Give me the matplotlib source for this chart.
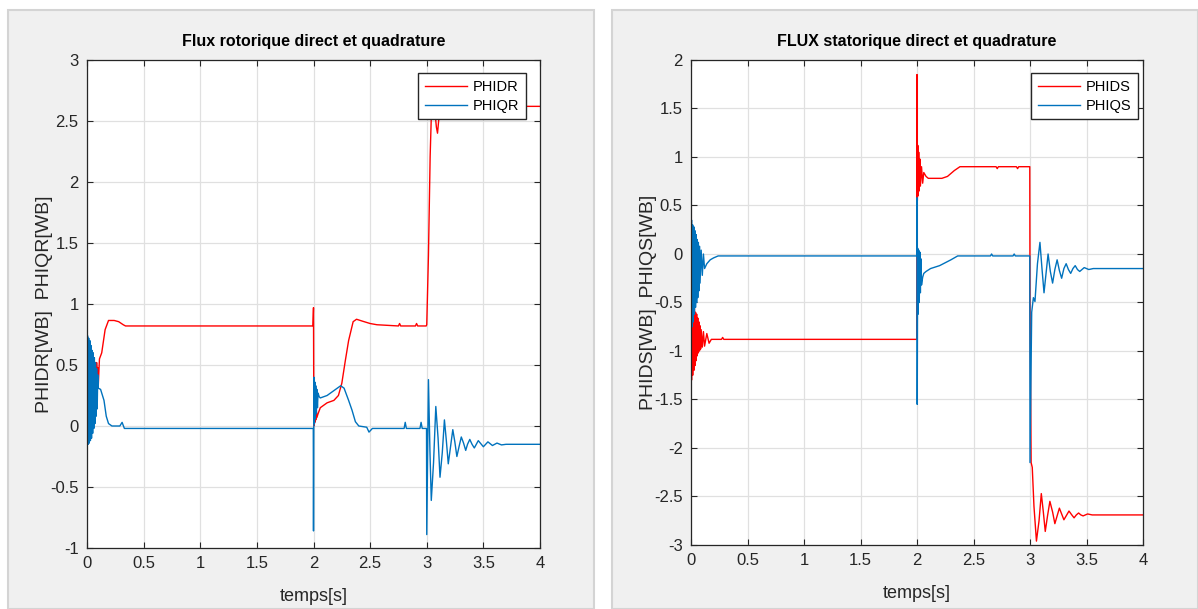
import numpy as np
import matplotlib
matplotlib.use("Agg")
import matplotlib.pyplot as plt
from matplotlib.patches import Rectangle

plt.rcParams['font.family'] = ['Liberation Sans Narrow', 'Liberation Sans', 'DejaVu Sans']

# ---- donnees : flux rotorique ----
t_phidr = [0.0, 0.005, 0.01, 0.015, 0.02, 0.025, 0.03, 0.035, 0.04, 0.045, 0.05, 0.055, 0.06,
           0.065, 0.07, 0.075, 0.08, 0.085, 0.09, 0.095, 0.10, 0.11, 0.13, 0.16, 0.19, 0.24,
           0.28, 0.32, 0.34,
           1.995, 2.0, 2.003, 2.008, 2.012, 2.016, 2.02, 2.025, 2.03, 2.04, 2.06, 2.12, 2.18,
           2.22, 2.25, 2.28, 2.31, 2.35, 2.38, 2.43, 2.5, 2.56, 2.75, 2.76, 2.77, 2.9, 2.91,
           2.92, 2.995,
           3.0, 3.015, 3.03, 3.05, 3.07, 3.085, 3.095, 3.11, 3.13, 4.0]
phidr = [0.0, 0.55, 0.02, 0.52, 0.05, 0.55, 0.08, 0.5, 0.12, 0.55, 0.15, 0.5, 0.2,
         0.53, 0.25, 0.5, 0.3, 0.52, 0.35, 0.48, 0.34, 0.55, 0.6, 0.79, 0.865, 0.865,
         0.855, 0.83, 0.82,
         0.82, 0.97, 0.0, 0.15, 0.03, 0.14, 0.05, 0.13, 0.07, 0.1, 0.15, 0.19, 0.21,
         0.25, 0.35, 0.53, 0.7, 0.855, 0.875, 0.86, 0.84, 0.83, 0.82, 0.84, 0.82, 0.82, 0.84,
         0.82, 0.82,
         0.83, 1.4, 2.21, 2.85, 2.6, 2.45, 2.4, 2.55, 2.62, 2.62]

t_phiqr = [0.0, 0.005, 0.01, 0.015, 0.02, 0.025, 0.03, 0.035, 0.04, 0.045, 0.05, 0.055, 0.06,
           0.065, 0.07, 0.075, 0.08, 0.085, 0.09, 0.095, 0.10, 0.12, 0.15, 0.17, 0.19, 0.22,
           0.29, 0.31, 0.33, 0.38,
           1.998, 2.0, 2.004, 2.008, 2.012, 2.016, 2.02, 2.025, 2.03, 2.035, 2.04, 2.05, 2.06,
           2.12, 2.18, 2.24, 2.27, 2.31, 2.34, 2.37, 2.4, 2.47, 2.49, 2.52, 2.8, 2.81, 2.82,
           2.94, 2.95, 2.96, 2.998,
           3.0, 3.015, 3.028, 3.04, 3.06, 3.08, 3.1, 3.117, 3.137, 3.156, 3.173, 3.19, 3.21,
           3.23, 3.248, 3.266, 3.285, 3.305, 3.325, 3.344, 3.36, 3.38, 3.4, 3.42,
           3.455, 3.5, 3.54, 3.58, 3.62, 3.66, 3.7, 4.0]
phiqr = [0.0, 0.74, -0.15, 0.72, -0.14, 0.7, -0.12, 0.66, -0.1, 0.62, -0.06, 0.6, -0.02,
         0.56, 0.02, 0.52, 0.08, 0.47, 0.14, 0.42, 0.31, 0.3, 0.21, 0.08, 0.02, 0.0,
         0.0, 0.03, -0.02, -0.02,
         -0.02, -0.86, 0.4, 0.02, 0.36, 0.06, 0.33, 0.1, 0.3, 0.15, 0.27, 0.24, 0.23,
         0.25, 0.29, 0.33, 0.31, 0.21, 0.13, 0.035, 0.0, -0.01, -0.05, -0.02, -0.02, 0.03, -0.02,
         -0.02, 0.03, -0.02, -0.02,
         -0.89, 0.38, -0.2, -0.61, -0.3, 0.16, -0.1, -0.42, -0.22, 0.05, -0.12, -0.31, -0.17,
         -0.03, -0.13, -0.25, -0.17, -0.09, -0.14, -0.2, -0.15, -0.11, -0.15, -0.18,
         -0.12, -0.17, -0.13, -0.16, -0.14, -0.155, -0.15, -0.15]

# ---- donnees : flux statorique ----
t_phids = [0.0, 0.005, 0.01, 0.015, 0.02, 0.025, 0.03, 0.035, 0.04, 0.045, 0.05, 0.055, 0.06,
           0.065, 0.07, 0.075, 0.08, 0.085, 0.09, 0.1, 0.11, 0.12, 0.14, 0.16, 0.18, 0.27,
           0.28, 0.29,
           1.998, 2.0, 2.003, 2.007, 2.011, 2.015, 2.02, 2.025, 2.03, 2.04, 2.05, 2.06, 2.08,
           2.1, 2.22, 2.27, 2.33, 2.38, 2.44, 2.7, 2.71, 2.72, 2.88, 2.89, 2.9, 2.998,
           3.0, 3.01, 3.02, 3.035, 3.057, 3.08, 3.1, 3.118, 3.135, 3.155, 3.176, 3.2, 3.22,
           3.24, 3.26, 3.28, 3.3, 3.32, 3.345, 3.37, 3.39, 3.41,
           3.43, 3.45, 3.47, 3.51, 3.55, 4.0]
phids = [-0.75, -1.3, -0.45, -1.25, -0.5, -1.2, -0.55, -1.15, -0.6, -1.1, -0.62, -1.05, -0.66,
         -1.02, -0.7, -1.0, -0.74, -0.98, -0.78, -0.96, -0.8, -0.95, -0.82, -0.92, -0.88, -0.88,
         -0.86, -0.88,
         -0.88, 1.85, 0.55, 1.12, 0.6, 1.05, 0.65, 0.98, 0.7, 0.9, 0.73, 0.84, 0.8,
         0.78, 0.78, 0.8, 0.86, 0.9, 0.9, 0.9, 0.88, 0.9, 0.9, 0.88, 0.9, 0.9,
         -0.5, -2.15, -2.2, -2.6, -2.96, -2.75, -2.47, -2.66, -2.86, -2.7, -2.55, -2.66, -2.78,
         -2.7, -2.62, -2.68, -2.74, -2.7, -2.65, -2.69, -2.72, -2.69,
         -2.67, -2.69, -2.7, -2.68, -2.69, -2.69]

t_phiqs = [0.0, 0.005, 0.01, 0.015, 0.02, 0.025, 0.03, 0.035, 0.04, 0.045, 0.05, 0.055, 0.06,
           0.065, 0.07, 0.075, 0.08, 0.09, 0.1, 0.11, 0.12, 0.14, 0.17, 0.2, 0.24, 0.3,
           1.998, 2.0, 2.002, 2.006, 2.01, 2.015, 2.02, 2.025, 2.03, 2.035, 2.04, 2.05, 2.06,
           2.08, 2.12, 2.2, 2.3, 2.36, 2.4, 2.65, 2.66, 2.67, 2.85, 2.86, 2.87, 2.998,
           3.0, 3.015, 3.03, 3.044, 3.066, 3.088, 3.106, 3.124, 3.142, 3.16, 3.18, 3.2, 3.22,
           3.24, 3.26, 3.28, 3.3, 3.32, 3.34, 3.36, 3.38, 3.4, 3.42, 3.44,
           3.48, 3.52, 3.56, 3.6, 4.0]
phiqs = [0.0, 0.35, -0.75, 0.3, -0.7, 0.28, -0.62, 0.24, -0.55, 0.2, -0.5, 0.15, -0.45,
         0.12, -0.38, 0.08, -0.3, 0.04, -0.22, 0.0, -0.15, -0.1, -0.06, -0.04, -0.02, -0.02,
         -0.02, 0.58, -1.55, 0.06, -0.62, 0.04, -0.5, 0.02, -0.4, -0.05, -0.32, -0.24, -0.2,
         -0.18, -0.15, -0.12, -0.06, -0.02, -0.02, -0.02, 0.0, -0.02, -0.02, 0.0, -0.02, -0.02,
         -2.15, -0.6, -0.45, -0.49, -0.1, 0.12, -0.15, -0.4, -0.2, 0.0, -0.18, -0.3, -0.16,
         -0.06, -0.17, -0.25, -0.15, -0.1, -0.16, -0.2, -0.15, -0.12, -0.16, -0.18,
         -0.14, -0.16, -0.15, -0.15, -0.15]

xticks = [0, 0.5, 1, 1.5, 2, 2.5, 3, 3.5, 4]
rouge = '#ff0000'
bleu = '#0072bd'

fig = plt.figure(figsize=(11.98, 6.09), dpi=100, facecolor='white')

# fonds gris des deux fenetres MATLAB
W, H = 1198.0, 609.0
for x0, x1 in [(8, 594), (612, 1198)]:
    fig.patches.append(Rectangle((x0 / W, 0), (x1 - x0) / W, 1 - 10 / H, transform=fig.transFigure,
                                 facecolor='#f0f0f0', edgecolor='#d4d4d4', linewidth=1.5, zorder=-10))

ax1 = fig.add_axes([87 / W, 1 - 548 / H, (540 - 87) / W, (548 - 60) / H])
ax2 = fig.add_axes([691 / W, 1 - 545 / H, (1143 - 691) / W, (545 - 60) / H])


def style(ax, ylim, yticks, title, ylabel):
    ax.set_facecolor('white')
    ax.set_xlim(0, 4)
    ax.set_ylim(*ylim)
    ax.set_xticks(xticks)
    ax.set_xticklabels([f'{v:g}' for v in xticks])
    ax.set_yticks(yticks)
    ax.set_yticklabels([f'{v:g}' for v in yticks])
    ax.grid(True, color='#e0e0e0', linewidth=0.9)
    ax.set_axisbelow(True)
    ax.tick_params(direction='in', top=True, right=True, length=4, width=0.8,
                   labelsize=12, colors='#262626', pad=6)
    for s in ax.spines.values():
        s.set_color('#262626')
        s.set_linewidth(0.9)
    ax.set_title(title, fontsize=11.5, fontweight='bold', pad=10, color='black')
    ax.set_xlabel('temps[s]', fontsize=13, color='#262626', labelpad=12)
    ax.set_ylabel(ylabel, fontsize=14, color='#262626', labelpad=-2)


leg_opts = dict(loc='upper right', fontsize=10.5, fancybox=False, edgecolor='#262626',
                framealpha=1, handlelength=2.9, handletextpad=0.4, borderpad=0.45,
                labelspacing=0.35, borderaxespad=0)

ax1.plot(t_phidr, phidr, color=rouge, linewidth=1.0, label='PHIDR')
ax1.plot(t_phiqr, phiqr, color=bleu, linewidth=1.0, label='PHIQR')
style(ax1, (-1, 3), [-1, -0.5, 0, 0.5, 1, 1.5, 2, 2.5, 3],
      'Flux rotorique direct et quadrature', 'PHIDR[WB]  PHIQR[WB]')
ax1.legend(bbox_to_anchor=(0.969, 0.973), **leg_opts)

ax2.plot(t_phids, phids, color=rouge, linewidth=1.0, label='PHIDS')
ax2.plot(t_phiqs, phiqs, color=bleu, linewidth=1.0, label='PHIQS')
style(ax2, (-3, 2), [-3, -2.5, -2, -1.5, -1, -0.5, 0, 0.5, 1, 1.5, 2],
      'FLUX statorique direct et quadrature', 'PHIDS[WB]  PHIQS[WB]')
ax2.legend(bbox_to_anchor=(0.989, 0.973), **leg_opts)

fig.savefig('out.png', dpi=100, facecolor='white')
